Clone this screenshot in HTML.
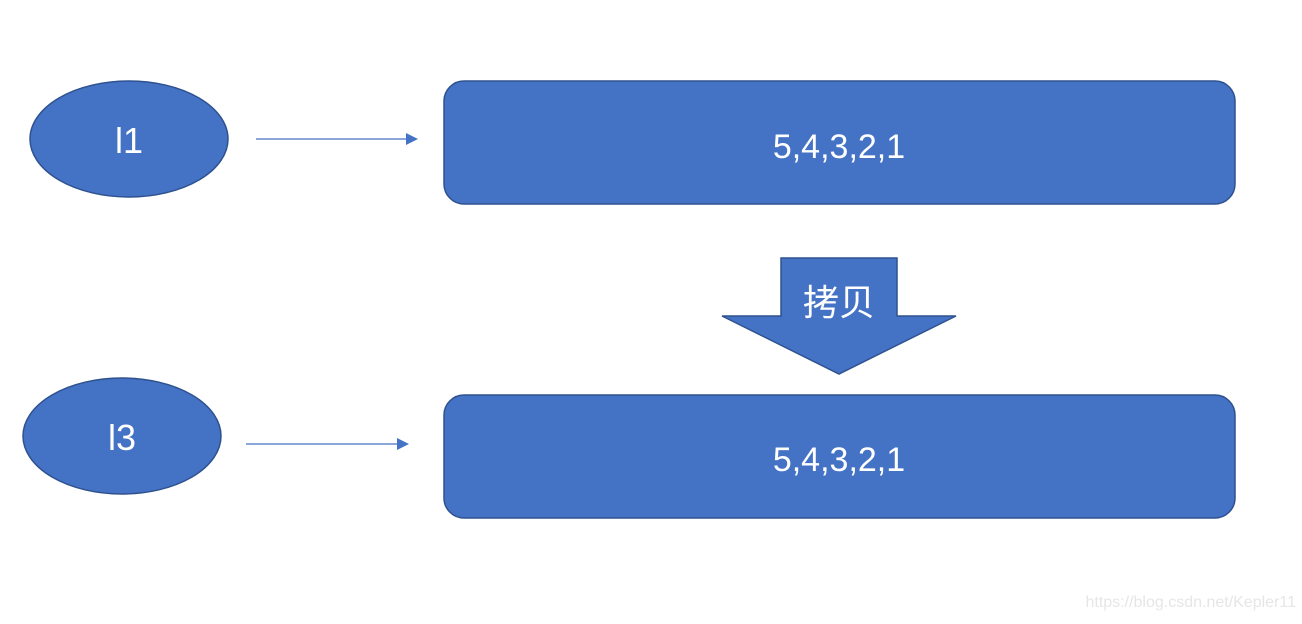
<!DOCTYPE html>
<html><head><meta charset="utf-8"><style>html,body{margin:0;padding:0;background:#fff}</style></head>
<body>
<svg width="1302" height="619" viewBox="0 0 1302 619" xmlns="http://www.w3.org/2000/svg">
<g fill="#4472c4" stroke="#2f528f" stroke-width="1.5">
<ellipse cx="129" cy="139" rx="99" ry="58"/>
<ellipse cx="122" cy="436" rx="99" ry="58"/>
<rect x="444" y="81" width="791" height="123" rx="20"/>
<rect x="444" y="395" width="791" height="123" rx="20"/>
<polygon points="781,258 897,258 897,316 956,316 839,374 722,316 781,316"/>
</g>
<g stroke="#4472c4" stroke-width="1.2">
<line x1="256" y1="139" x2="408" y2="139"/>
<line x1="246" y1="444" x2="399" y2="444"/>
</g>
<g fill="#4472c4">
<polygon points="406,133 418,139 406,145"/>
<polygon points="397,438 409,444 397,450"/>
</g>
<g fill="#fff" font-family="Liberation Sans, Noto Sans CJK SC, sans-serif" text-anchor="middle">
<text x="129" y="153" font-size="36">l1</text>
<text x="122" y="450" font-size="36">l3</text>
<text x="839" y="158" font-size="34">5,4,3,2,1</text>
<text x="839" y="471" font-size="34">5,4,3,2,1</text>
<text x="839" y="315" font-size="36" font-family="Noto Sans CJK SC, sans-serif">拷贝</text>
</g>
<text x="1296" y="607" font-size="16" fill="#e6e6e6" text-anchor="end" font-family="Liberation Sans, sans-serif">https://blog.csdn.net/Kepler11</text>
</svg>
</body></html>
